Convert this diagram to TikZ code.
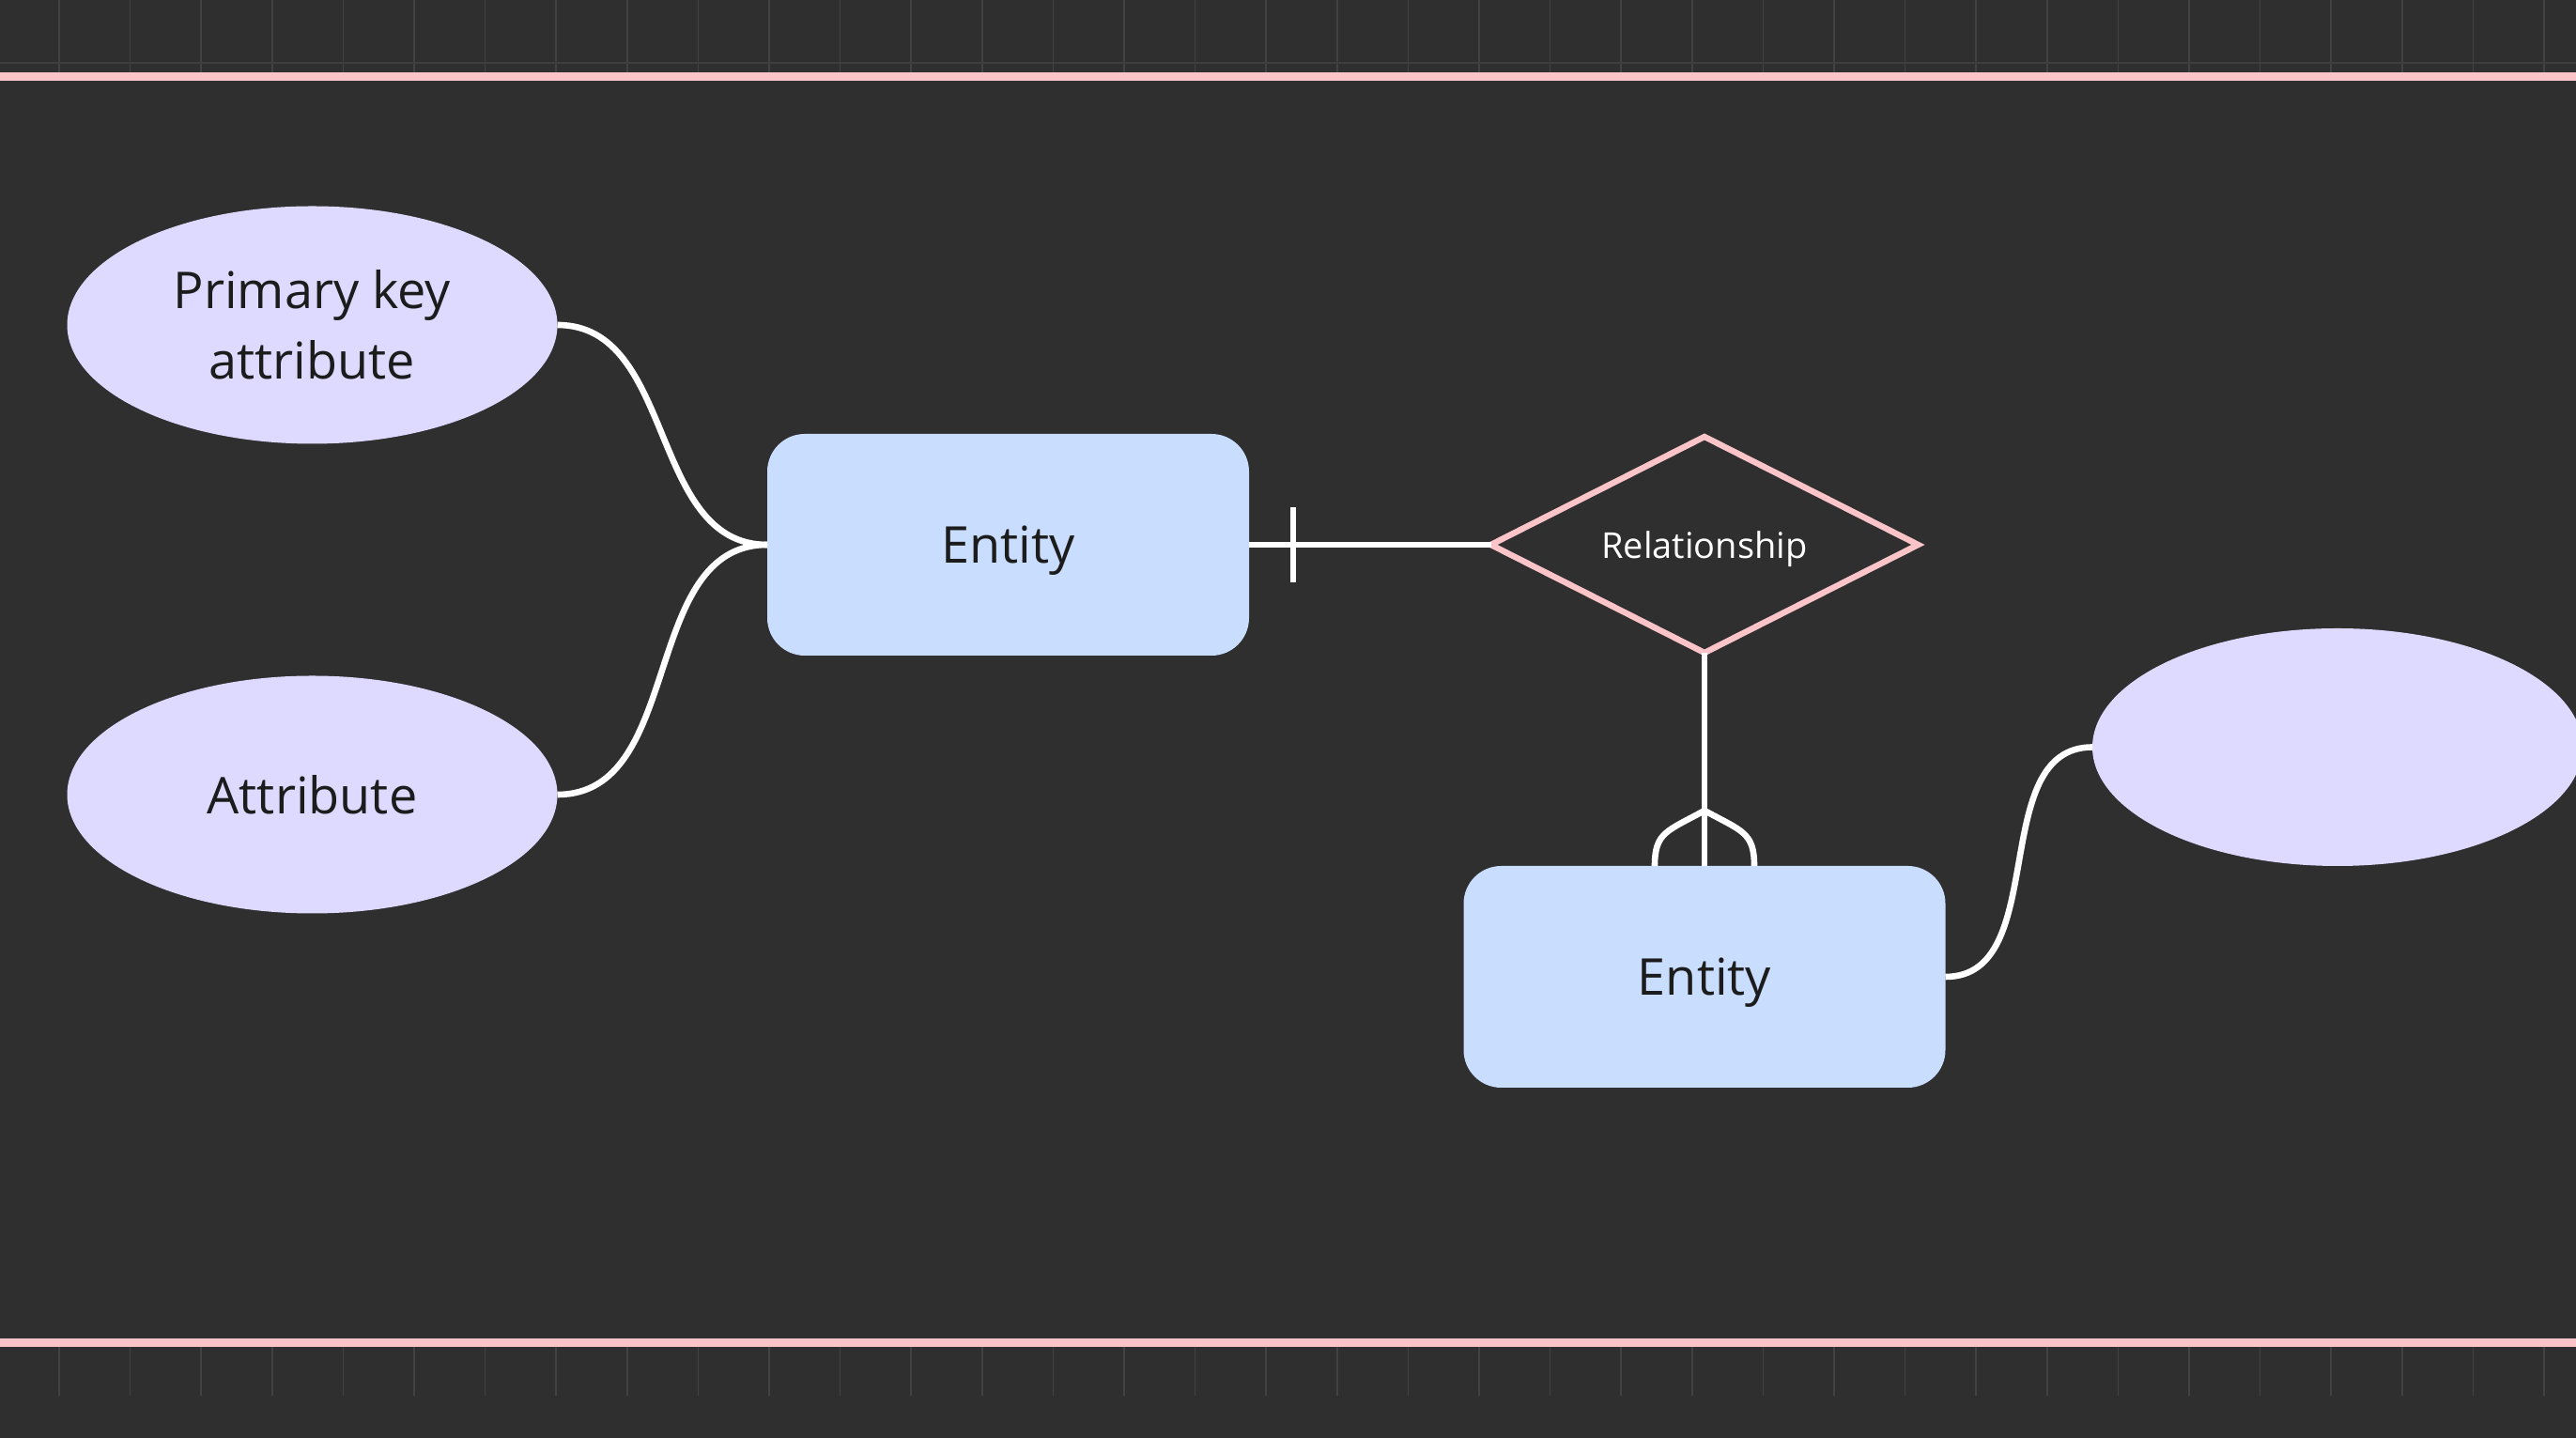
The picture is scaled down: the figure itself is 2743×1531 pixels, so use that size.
\documentclass[tikz,border=0pt]{standalone}
\usepackage{fontspec}
\setmainfont{Open Sans}
\usetikzlibrary{shapes.geometric,calc}
\definecolor{bgc}{RGB}{47,47,47}
\definecolor{pinkc}{RGB}{250,196,200}
\definecolor{entc}{RGB}{201,221,254}
\definecolor{attc}{RGB}{222,218,255}
\definecolor{tickc}{RGB}{66,66,66}
\definecolor{txtc}{RGB}{28,28,28}
\tikzset{
  entitybox/.style={rectangle, rounded corners=20pt, fill=entc, draw=none,
    minimum width=256.5pt, minimum height=118pt, outer sep=0pt, text=txtc,
    text depth=0pt, font=\fontsize{27pt}{37.5pt}\selectfont},
  attrell/.style={ellipse, fill=attc, draw=none, minimum width=261pt,
    minimum height=126.5pt, inner sep=0pt, outer sep=0pt, text=txtc, align=center,
    font=\fontsize{27pt}{37.5pt}\selectfont},
  relshape/.style={diamond, aspect=2, draw=pinkc, line width=3.2pt, fill=none,
    minimum width=227.5pt, minimum height=115pt, inner sep=0pt, outer sep=0pt,
    text=white, text depth=0pt, font=\fontsize{19pt}{23pt}\selectfont},
  conn/.style={draw=white, line width=3.3pt},
  gridtick/.style={draw=tickc, line width=0.8pt},
  border/.style={draw=pinkc, line width=4.5pt}
}
\begin{document}
\begin{tikzpicture}[x=0.5pt,y=0.5pt]
\useasboundingbox (0,0) rectangle (2743,1531);
\fill[bgc] (0,0) rectangle (2743,1531);
% grid ticks outside the frame
\foreach \i in {0,...,35} {
  \draw[gridtick] ({63+75.6*\i},1454) -- ({63+75.6*\i},1531);
  \draw[gridtick] ({63+75.6*\i},45) -- ({63+75.6*\i},97);
}
\draw[draw=tickc!80!bgc, line width=0.8pt] (0,1464) -- (2743,1464);
% frame lines
\draw[border] (0,1449.5) -- (2743,1449.5);
\draw[border] (0,101.5) -- (2743,101.5);

% nodes
\node[attrell] (pk) at (332.5,1185) {Primary key\\attribute};
\node[attrell] (attr) at (332.5,685) {Attribute};
\node[entitybox] (ent1) at (1073.5,951) {Entity};
\node[relshape] (rel) at (1815,951) {Relationship};
\node[entitybox] (ent2) at (1815,491) {Entity};
\node[attrell] (attr3) at (2489,735.5) {};

% connectors
\draw[conn] (pk.east) to[out=0,in=180] (ent1.west);
\draw[conn] (attr.east) to[out=0,in=180] (ent1.west);
\draw[conn] (ent2.east) to[out=0,in=180] (attr3.west);

% one (mandatory) side
\draw[conn] (ent1.east) -- (rel.west);
\coordinate (onetick) at ($(ent1.east)+(47,0)$);
\draw[conn] ($(onetick)+(0,40)$) -- ($(onetick)-(0,40)$);

% many side with crow's foot
\draw[conn] (rel.south) -- (ent2.north);
\coordinate (apex) at ($(ent2.north)+(0,59)$);
\coordinate (footL) at ($(ent2.north)+(-53,0)$);
\coordinate (footR) at ($(ent2.north)+(53,0)$);
\draw[conn] (apex) .. controls ($(apex)+(-40,-22)$) and ($(footL)+(0,36)$) .. (footL);
\draw[conn] (apex) .. controls ($(apex)+(40,-22)$) and ($(footR)+(0,36)$) .. (footR);
\end{tikzpicture}
\end{document}
